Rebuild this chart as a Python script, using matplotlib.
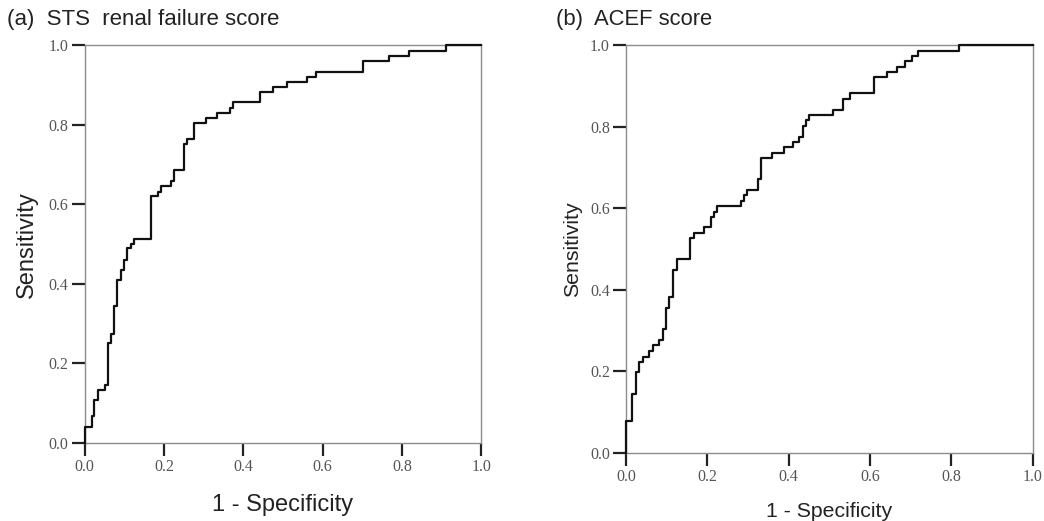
import matplotlib
matplotlib.use("Agg")
import matplotlib.pyplot as plt

# ROC step curves (1 - specificity, sensitivity)
fpr_a = [0, 0, 0.018, 0.024, 0.033, 0.051, 0.058, 0.066, 0.075, 0.083, 0.091, 0.100,
         0.108, 0.116, 0.125, 0.167, 0.184, 0.192, 0.217, 0.226, 0.251, 0.259, 0.276,
         0.306, 0.333, 0.367, 0.375, 0.443, 0.476, 0.510, 0.560, 0.584, 0.702, 0.767,
         0.819, 0.912, 1.0]
tpr_a = [0, 0.040, 0.067, 0.107, 0.132, 0.145, 0.251, 0.275, 0.344, 0.409, 0.436, 0.461,
         0.489, 0.501, 0.514, 0.620, 0.631, 0.646, 0.659, 0.686, 0.751, 0.764, 0.805,
         0.817, 0.830, 0.843, 0.857, 0.883, 0.895, 0.908, 0.920, 0.934, 0.961, 0.974,
         0.986, 1.0, 1.0]

fpr_b = [0, 0, 0.016, 0.025, 0.033, 0.041, 0.057, 0.066, 0.082, 0.090, 0.098, 0.106,
         0.116, 0.125, 0.157, 0.167, 0.192, 0.208, 0.216, 0.224, 0.282, 0.290, 0.298,
         0.325, 0.333, 0.359, 0.388, 0.410, 0.426, 0.434, 0.443, 0.451, 0.510, 0.534,
         0.551, 0.610, 0.642, 0.667, 0.685, 0.702, 0.718, 0.818, 1.0]
tpr_b = [0, 0.079, 0.145, 0.198, 0.224, 0.236, 0.251, 0.265, 0.277, 0.303, 0.355, 0.382,
         0.449, 0.475, 0.526, 0.540, 0.553, 0.578, 0.591, 0.605, 0.618, 0.632, 0.645,
         0.671, 0.724, 0.736, 0.749, 0.763, 0.775, 0.802, 0.816, 0.828, 0.842, 0.868,
         0.882, 0.921, 0.934, 0.947, 0.960, 0.973, 0.986, 1.0, 1.0]

ticks = [0.0, 0.2, 0.4, 0.6, 0.8, 1.0]
tick_labels = ["0.0", "0.2", "0.4", "0.6", "0.8", "1.0"]

fig = plt.figure(figsize=(10.44, 5.21), dpi=100)
ax1 = fig.add_axes([0.081, 0.150, 0.380, 0.763])
ax2 = fig.add_axes([0.5996, 0.1305, 0.3896, 0.783])


def style(ax, label_size, xpad, ypad):
    ax.set_xlim(0, 1)
    ax.set_ylim(0, 1)
    ax.set_xticks(ticks)
    ax.set_yticks(ticks)
    ax.set_xticklabels(tick_labels, family="Liberation Serif", fontsize=11.5, color="#555555")
    ax.set_yticklabels(tick_labels, family="Liberation Serif", fontsize=11.5, color="#555555")
    for s in ax.spines.values():
        s.set_color("#8c8c8c")
        s.set_linewidth(1.0)
    ax.tick_params(direction="out", length=9.5, width=1.6, color="#222222", pad=2)
    ax.set_xlabel("1 - Specificity", family="Liberation Sans", fontsize=label_size,
                  color="#222222", labelpad=xpad)
    ax.set_ylabel("Sensitivity", family="Liberation Sans", fontsize=label_size,
                  color="#222222", labelpad=ypad)


ax1.step(fpr_a, tpr_a, where="post", color="#111111", lw=1.6, clip_on=False, zorder=5)
style(ax1, 17, 14, 8)
ax2.step(fpr_b, tpr_b, where="post", color="#111111", lw=1.6, clip_on=False, zorder=5)
style(ax2, 15.3, 12, 6)

fig.text(0.007, 0.962, "(a)  STS  renal failure score", family="Liberation Sans",
         fontsize=16, color="#222222", va="center")
fig.text(0.533, 0.962, "(b)  ACEF score", family="Liberation Sans",
         fontsize=15.8, color="#222222", va="center")

fig.savefig("out.png", dpi=100)
